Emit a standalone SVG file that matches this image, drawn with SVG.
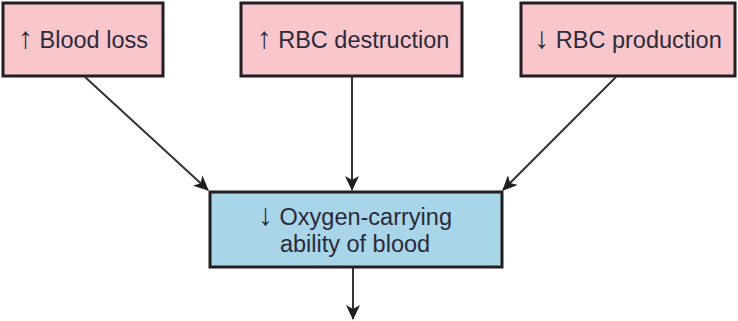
<svg xmlns="http://www.w3.org/2000/svg" width="738" height="321" viewBox="0 0 738 321">
<style>
.cause{fill:#f9c6cb;stroke:#231f20;stroke-width:3}
.effect{fill:#a9d5e8;stroke:#231f20;stroke-width:3}
.lbl{font-family:"Liberation Sans",Arial,"DejaVu Sans",sans-serif;font-size:23.5px;fill:#2b2a3a;text-anchor:middle}
.ar{font-size:30px}
.conn{stroke:#333;stroke-width:2;fill:none;marker-end:url(#ah)}
</style>
<defs>
<marker id="ah" markerWidth="16" markerHeight="14" refX="14" refY="7" orient="auto" markerUnits="userSpaceOnUse">
<path d="M0,0 L15,7 L0,14 L4,7 Z" fill="#231f20"/>
</marker>
</defs>
<rect width="738" height="321" fill="#fff"/>
<g id="blood-loss">
<rect class="cause" x="3" y="3" width="160" height="73"/>
<text class="lbl" x="83" y="48"><tspan class="ar">↑</tspan> Blood loss</text>
</g>
<g id="rbc-destruction">
<rect class="cause" x="241" y="3" width="221" height="73"/>
<text class="lbl" x="353" y="48"><tspan class="ar">↑</tspan> RBC destruction</text>
</g>
<g id="rbc-production">
<rect class="cause" x="521" y="3" width="214" height="73"/>
<text class="lbl" x="628" y="48"><tspan class="ar">↓</tspan> RBC production</text>
</g>
<g id="oxygen">
<rect class="effect" x="210" y="192" width="292" height="75"/>
<text class="lbl" x="355" y="225"><tspan class="ar">↓</tspan> Oxygen-carrying</text>
<text class="lbl" x="355" y="252">ability of blood</text>
</g>
<g id="connectors">
<line class="conn" x1="85" y1="77" x2="208" y2="190"/>
<line class="conn" x1="352" y1="77" x2="352" y2="190"/>
<line class="conn" x1="616" y1="77" x2="503" y2="190"/>
<line class="conn" x1="353" y1="268" x2="353" y2="319"/>
</g>
</svg>
